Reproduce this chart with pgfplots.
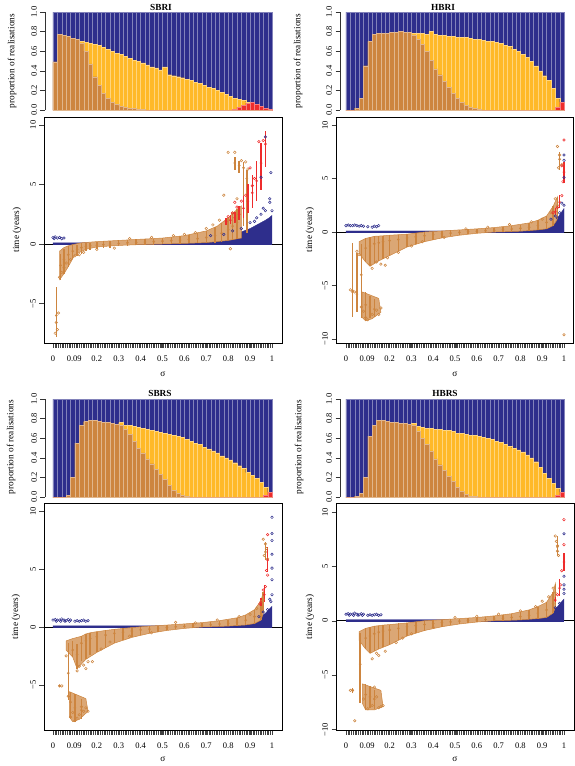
\documentclass[border=0pt]{standalone}
\usepackage{pgfplots}
\pgfplotsset{compat=1.18}
\usepackage{pgfplotstable}
\usepackage{fontspec}
\setmainfont{Liberation Serif}
\definecolor{myblue}{RGB}{46,46,140}
\definecolor{mybrown}{RGB}{205,133,63}
\definecolor{myyellow}{RGB}{255,185,40}
\definecolor{myred}{RGB}{238,44,44}
\newcommand{\sfont}{\fontsize{8.5}{10}\selectfont}
\newcommand{\lfont}{\fontsize{9.3}{11}\selectfont}
\pgfplotsset{
  barax/.style={scale only axis, height=98pt, ymin=0, ymax=1, axis x line=none, axis y line*=left,
    axis line style={black!80, line width=0.5pt}, ytick={0,0.2,0.4,0.6,0.8,1},
    yticklabels={0.0,0.2,0.4,0.6,0.8,1.0}, yticklabel style={rotate=90, anchor=south, font=\sfont},
    tick align=outside, major tick length=4.5pt, ytick pos=left, tick style={black!80, line width=0.5pt}},
  mybar/.style={ybar, bar width=0.2, bar shift=0pt, draw=#1!60!white, line width=0.25pt, fill=#1},
  scax/.style={scale only axis, axis line style={black, line width=0.6pt},
    xtick={0,0.97,2,3,4,5,6,7,8,9,10}, xticklabels={0,0.09,0.2,0.3,0.4,0.5,0.6,0.7,0.8,0.9,1},
    minor xtick={0,0.08,...,10}, tick align=outside, xtick pos=left, ytick pos=left,
    major tick length=4.5pt, minor tick length=4.5pt, tick style={black!75, line width=0.4pt},
    xticklabel style={font=\sfont, yshift=-5pt}, yticklabel style={rotate=90, anchor=south, font=\sfont}},
  bbox/.style={only marks, mark=o, mark size=1.1pt, color=#1, mark options={line width=0.45pt},
    error bars/.cd, y dir=both, y explicit, error bar style={line width=1.5pt, color=#1}, error mark=none},
  pts/.style={only marks, mark=o, mark size=1.3pt, mark options={line width=0.5pt}, color=#1},
  band/.style={fill=mybrown!72!white, draw=mybrown, line width=0.5pt},
  table/bxtab/.style={x=x, y=y, y error plus expr=\thisrow{hi}-\thisrow{y}, y error minus expr=\thisrow{y}-\thisrow{lo}},
}
\pgfplotstableread{
x all tot br rd
0.1 1 0.49 0.49 0
0.3 1 0.77 0.77 0
0.5 1 0.76 0.76 0
0.7 1 0.75 0.75 0
0.9 1 0.73 0.73 0
1.1 1 0.72 0.72 0
1.3 1 0.70 0.68 0
1.5 1 0.69 0.60 0
1.7 1 0.68 0.47 0
1.9 1 0.67 0.34 0
2.1 1 0.66 0.25 0
2.3 1 0.64 0.17 0
2.5 1 0.62 0.12 0
2.7 1 0.60 0.08 0
2.9 1 0.58 0.06 0
3.1 1 0.57 0.04 0
3.3 1 0.55 0.03 0
3.5 1 0.53 0.02 0
3.7 1 0.51 0.015 0
3.9 1 0.50 0.01 0
4.1 1 0.48 0.005 0
4.3 1 0.46 0 0
4.5 1 0.44 0 0
4.7 1 0.43 0 0
4.9 1 0.41 0 0
5.1 1 0.44 0 0
5.3 1 0.36 0 0
5.5 1 0.35 0 0
5.7 1 0.34 0 0
5.9 1 0.33 0 0
6.1 1 0.31 0 0
6.3 1 0.30 0 0
6.5 1 0.28 0 0
6.7 1 0.27 0 0
6.9 1 0.25 0 0
7.1 1 0.23 0 0
7.3 1 0.22 0 0
7.5 1 0.20 0 0
7.7 1 0.18 0 0
7.9 1 0.16 0 0
8.1 1 0.14 0 0
8.3 1 0.12 0 0.01
8.5 1 0.11 0 0.03
8.7 1 0.10 0 0.05
8.9 1 0.08 0 0.07
9.1 1 0.08 0 0.08
9.3 1 0.06 0 0.06
9.5 1 0.04 0 0.04
9.7 1 0.02 0 0.02
9.9 1 0.005 0 0.005
}\barSBRI
\pgfplotstableread{
x all tot br rd
0.1 1 0 0 0
0.3 1 0 0 0
0.5 1 0.02 0.02 0
0.7 1 0.12 0.12 0
0.9 1 0.45 0.45 0
1.1 1 0.70 0.70 0
1.3 1 0.77 0.77 0
1.5 1 0.78 0.78 0
1.7 1 0.78 0.78 0
1.9 1 0.78 0.78 0
2.1 1 0.79 0.79 0
2.3 1 0.79 0.79 0
2.5 1 0.80 0.80 0
2.7 1 0.79 0.79 0
2.9 1 0.79 0.79 0
3.1 1 0.78 0.76 0
3.3 1 0.78 0.72 0
3.5 1 0.78 0.67 0
3.7 1 0.77 0.60 0
3.9 1 0.80 0.51 0
4.1 1 0.77 0.42 0
4.3 1 0.76 0.36 0
4.5 1 0.76 0.29 0
4.7 1 0.75 0.23 0
4.9 1 0.75 0.17 0
5.1 1 0.74 0.12 0
5.3 1 0.74 0.08 0
5.5 1 0.74 0.05 0
5.7 1 0.73 0.03 0
5.9 1 0.72 0.02 0
6.1 1 0.72 0.01 0
6.3 1 0.71 0 0
6.5 1 0.70 0 0
6.7 1 0.70 0 0
6.9 1 0.69 0 0
7.1 1 0.68 0 0
7.3 1 0.66 0 0
7.5 1 0.65 0 0
7.7 1 0.62 0 0
7.9 1 0.60 0 0
8.1 1 0.57 0 0
8.3 1 0.54 0 0
8.5 1 0.50 0 0
8.7 1 0.45 0 0
8.9 1 0.40 0 0
9.1 1 0.35 0 0
9.3 1 0.30 0 0
9.5 1 0.22 0 0
9.7 1 0.12 0 0.03
9.9 1 0.08 0 0.08
}\barHBRI
\pgfplotstableread{
x all tot br rd
0.1 1 0 0 0
0.3 1 0 0 0
0.5 1 0 0 0
0.7 1 0.02 0.02 0
0.9 1 0.20 0.20 0
1.1 1 0.55 0.55 0
1.3 1 0.73 0.73 0
1.5 1 0.77 0.77 0
1.7 1 0.78 0.78 0
1.9 1 0.78 0.78 0
2.1 1 0.77 0.77 0
2.3 1 0.76 0.76 0
2.5 1 0.76 0.76 0
2.7 1 0.75 0.75 0
2.9 1 0.74 0.74 0
3.1 1 0.76 0.73 0
3.3 1 0.73 0.69 0
3.5 1 0.73 0.64 0
3.7 1 0.72 0.57 0
3.9 1 0.71 0.50 0
4.1 1 0.70 0.45 0
4.3 1 0.69 0.39 0
4.5 1 0.68 0.34 0
4.7 1 0.67 0.28 0
4.9 1 0.66 0.23 0
5.1 1 0.65 0.18 0
5.3 1 0.64 0.12 0
5.5 1 0.63 0.07 0
5.7 1 0.62 0.04 0
5.9 1 0.61 0.02 0
6.1 1 0.59 0.01 0
6.3 1 0.57 0 0
6.5 1 0.55 0 0
6.7 1 0.54 0 0
6.9 1 0.51 0 0
7.1 1 0.49 0 0
7.3 1 0.47 0 0
7.5 1 0.45 0 0
7.7 1 0.42 0 0
7.9 1 0.40 0 0
8.1 1 0.38 0 0
8.3 1 0.35 0 0
8.5 1 0.32 0 0
8.7 1 0.29 0 0
8.9 1 0.25 0 0
9.1 1 0.22 0 0
9.3 1 0.19 0 0
9.5 1 0.15 0 0
9.7 1 0.10 0 0.02
9.9 1 0.05 0 0.05
}\barSBRS
\pgfplotstableread{
x all tot br rd
0.1 1 0 0 0
0.3 1 0 0 0
0.5 1 0.01 0.01 0
0.7 1 0.04 0.04 0
0.9 1 0.20 0.20 0
1.1 1 0.62 0.62 0
1.3 1 0.73 0.73 0
1.5 1 0.78 0.78 0
1.7 1 0.78 0.78 0
1.9 1 0.77 0.77 0
2.1 1 0.76 0.76 0
2.3 1 0.76 0.76 0
2.5 1 0.75 0.75 0
2.7 1 0.75 0.75 0
2.9 1 0.74 0.74 0
3.1 1 0.75 0.73 0
3.3 1 0.72 0.67 0
3.5 1 0.71 0.60 0
3.7 1 0.70 0.54 0
3.9 1 0.70 0.47 0
4.1 1 0.69 0.39 0
4.3 1 0.69 0.33 0
4.5 1 0.68 0.27 0
4.7 1 0.68 0.21 0
4.9 1 0.67 0.16 0
5.1 1 0.65 0.10 0
5.3 1 0.65 0.06 0
5.5 1 0.64 0.03 0
5.7 1 0.63 0.01 0
5.9 1 0.63 0.005 0
6.1 1 0.62 0 0
6.3 1 0.61 0 0
6.5 1 0.60 0 0
6.7 1 0.59 0 0
6.9 1 0.57 0 0
7.1 1 0.56 0 0
7.3 1 0.54 0 0
7.5 1 0.52 0 0
7.7 1 0.50 0 0
7.9 1 0.48 0 0
8.1 1 0.46 0 0
8.3 1 0.43 0 0
8.5 1 0.40 0 0
8.7 1 0.36 0 0
8.9 1 0.30 0 0
9.1 1 0.24 0 0
9.3 1 0.19 0 0
9.5 1 0.14 0 0
9.7 1 0.09 0 0.02
9.9 1 0.05 0 0.05
}\barHBRS
\newcommand{\barpanel}[1]{%
  \addplot[mybar=myblue] table[x=x,y=all] {#1};
  \addplot[mybar=myyellow] table[x=x,y=tot] {#1};
  \addplot[mybar=myred] table[x=x,y=rd] {#1};
  \addplot[mybar=mybrown] table[x=x,y=br] {#1};
}
\begin{document}
\begin{tikzpicture}
\useasboundingbox (0,0) rectangle (575pt,-766pt);
% ---------------- SBRI ----------------
\begin{axis}[barax, at={(45pt,-110pt)}, anchor=south west, width=229.2pt, xmin=-0.365, xmax=10.1]
\barpanel{\barSBRI}
\end{axis}
\begin{axis}[scax, at={(44pt,-343pt)}, anchor=south west, width=238pt, height=226pt,
  xmin=-0.411, xmax=10.457, ymin=-8.32, ymax=10.67, ytick={-5,0,5,10}, yticklabels={−5,0,5,10}]
\addplot[black, line width=0.6pt] coordinates {(-1,0) (11,0)};
\addplot[fill=myblue, draw=myblue, line width=0.3pt] table {
x y
0 0.1
1 0.1
2 0.11
3 0.12
4 0.13
5 0.15
6 0.2
6.5 0.25
7 0.3
7.5 0.45
8 0.65
8.5 0.95
9 1.3
9.5 1.8
9.8 2.1
10 2.4
} \closedcycle;
\addplot[myblue, line width=2pt] coordinates {(0,0) (10,0)};
\addplot[band] table {
x y
0.3 -0.6
0.5 -0.3
0.7 -0.15
0.9 -0.05
1.3 0.1
2.0 0.2
3.0 0.3
4.0 0.4
5.0 0.5
6.0 0.7
7.0 1.1
7.5 1.5
8.0 2.2
8.4 2.9
8.6 3.2
8.6 0.5
8.0 0.3
7.0 0.12
6.0 0.05
5.0 0.0
4.0 -0.05
3.0 -0.12
2.0 -0.25
1.5 -0.45
1.0 -0.9
0.7 -1.9
0.5 -2.5
0.3 -3.0
0.3 -0.6
};
\addplot[bbox=mybrown] table[bxtab] {
x y lo hi
0.15 -6.0 -7.8 -3.6
0.35 -1.8 -3.0 -0.8
0.5 -1.3 -2.5 -0.4
0.7 -0.9 -1.9 -0.2
0.9 -0.6 -1.3 -0.1
1.1 -0.45 -1.0 -0.05
1.3 -0.3 -0.8 0.05
1.5 -0.2 -0.6 0.1
1.7 -0.15 -0.5 0.12
2.0 -0.1 -0.4 0.18
2.3 -0.05 -0.35 0.22
2.6 0.0 -0.3 0.26
3.0 0.05 -0.2 0.3
3.4 0.1 -0.15 0.34
3.8 0.13 -0.1 0.38
4.2 0.16 -0.08 0.42
4.6 0.2 -0.05 0.46
5.0 0.24 0.0 0.5
5.4 0.28 0.0 0.56
5.8 0.32 0.02 0.65
6.2 0.38 0.05 0.75
6.6 0.45 0.08 0.9
7.0 0.55 0.1 1.1
7.4 0.7 0.12 1.4
7.7 0.9 0.2 1.8
8.0 1.2 0.3 2.2
8.2 1.5 0.35 2.6
8.4 1.8 0.4 2.9
8.3 6.8 6.2 7.3
8.5 6.6 6.0 7.0
8.7 6.4 1.5 6.9
8.85 5.5 0.9 6.2
};
\addplot[pts=mybrown] table {
x y
0.1 -7.5
0.2 -7.2
0.15 -6.6
0.25 -5.8
0.3 -2.8
0.4 -2.4
0.5 -2.0
0.6 -1.6
0.8 -1.3
1.0 -1.0
1.2 -0.9
1.4 -0.7
2.0 -0.45
2.8 -0.35
3.5 0.45
4.5 0.55
5.5 0.7
6.0 0.8
6.5 0.95
7.0 1.3
7.3 1.6
7.6 2.0
7.8 4.1
8.0 7.7
8.3 7.7
8.2 2.6
8.4 3.8
8.1 -0.4
8.6 7.0
8.8 6.9
8.9 6.3
};
\addplot[bbox=myred] table[bxtab] {
x y lo hi
7.9 1.9 1.6 2.2
8.1 2.0 1.7 2.4
8.3 2.2 1.8 2.7
8.5 2.5 2.0 3.2
8.7 3.0 2.2 4.0
8.9 3.6 2.6 5.0
9.1 4.3 3.0 5.8
9.3 5.3 3.6 7.0
9.5 6.8 4.5 8.5
9.7 8.4 6.5 9.5
};
\addplot[pts=myred] table {
x y
8.0 2.3
8.2 2.6
8.4 3.1
8.3 3.5
8.6 3.6
8.8 4.1
9.0 6.4
9.2 5.5
9.4 8.6
9.6 8.7
9.1 4.9
};
\addplot[pts=myblue] table {
x y
0.0 0.55
0.1 0.6
0.2 0.5
0.3 0.55
0.4 0.45
0.5 0.5
0.05 0.45
7.2 0.7
7.8 0.8
8.2 1.1
8.6 1.3
9.0 1.8
9.2 1.9
9.3 2.2
9.5 2.5
9.5 5.6
9.7 2.8
9.7 9.0
9.8 2.0
9.9 3.8
9.9 3.5
9.95 6.0
10.0 2.8
9.6 3.0
};
\end{axis}
% ---------------- HBRI ----------------
\begin{axis}[barax, at={(340pt,-110pt)}, anchor=south west, width=226.2pt, xmin=-0.275, xmax=10.1]
\barpanel{\barHBRI}
\end{axis}
\begin{axis}[scax, at={(336pt,-343pt)}, anchor=south west, width=237pt, height=226pt,
  xmin=-0.459, xmax=10.413, ymin=-10.37, ymax=10.75, ytick={-10,-5,0,5,10}, yticklabels={−10,−5,0,5,10}]
\addplot[black, line width=0.6pt] coordinates {(-1,0) (11,0)};
\addplot[fill=myblue, draw=myblue, line width=0.3pt] table {
x y
0 0.1
5 0.1
7 0.14
8 0.22
8.5 0.32
9 0.5
9.4 0.8
9.7 1.3
10 2.2
} \closedcycle;
\addplot[myblue, line width=2pt] coordinates {(0,0) (10,0)};
\addplot[band] table {
x y
0.6 -0.9
0.9 -0.6
1.1 -0.5
1.3 -0.4
1.7 -0.35
2.0 -0.3
2.8 -0.2
3.2 -0.1
3.6 0.0
4.4 0.1
5.2 0.2
6.0 0.3
6.8 0.42
7.6 0.6
8.4 0.85
8.8 1.1
9.2 1.5
9.5 2.4
9.7 3.3
9.7 1.2
9.5 0.6
9.2 0.3
8.8 0.2
8.0 0.08
7.2 0.02
6.8 0.0
6.0 -0.12
5.2 -0.3
4.4 -0.55
3.6 -0.9
2.8 -1.4
2.4 -1.8
2.0 -2.2
1.5 -2.7
1.1 -3.2
0.9 -2.8
0.6 -2.0
0.6 -0.9
};
\addplot[band] table {
x y
0.75 -5.6
1.5 -6.2
1.6 -7.5
1.2 -8.1
0.9 -8.3
0.75 -8.0
0.75 -5.6
};
\addplot[bbox=mybrown] table[bxtab] {
x y lo hi
0.3 -5.6 -7.9 -1.0
0.5 -5.8 -7.5 -2.0
0.7 -4.0 -8.0 -1.1
0.9 -6.8 -8.3 -5.6
0.9 -1.5 -2.8 -0.6
1.1 -7.0 -8.0 -6.0
1.1 -1.3 -3.2 -0.5
1.3 -7.2 -7.9 -6.3
1.3 -1.1 -2.9 -0.4
1.5 -1.0 -2.7 -0.4
1.7 -0.9 -2.5 -0.35
2.0 -0.8 -2.2 -0.3
2.4 -0.7 -1.8 -0.25
2.8 -0.55 -1.4 -0.2
3.2 -0.45 -1.1 -0.1
3.6 -0.35 -0.9 0.0
4.0 -0.25 -0.7 0.05
4.4 -0.18 -0.55 0.1
4.8 -0.1 -0.4 0.15
5.2 -0.03 -0.3 0.2
5.6 0.03 -0.2 0.25
6.0 0.08 -0.12 0.3
6.4 0.12 -0.05 0.35
6.8 0.17 0.0 0.42
7.2 0.22 0.02 0.5
7.6 0.28 0.05 0.6
8.0 0.35 0.08 0.7
8.4 0.45 0.12 0.85
8.8 0.6 0.2 1.1
9.2 0.9 0.3 1.5
9.5 1.5 0.6 2.4
9.7 2.5 1.2 3.3
9.8 6.8 5.8 7.5
};
\addplot[pts=mybrown] table {
x y
0.2 -5.4
0.3 -5.5
0.4 -5.6
0.5 -1.8
0.6 -2.1
0.7 -7.0
0.8 -7.4
0.9 -8.0
1.0 -8.2
1.2 -7.7
1.4 -7.3
1.5 -7.7
1.6 -7.1
1.1 -3.0
1.2 -3.4
1.4 -2.8
1.6 -3.0
1.8 -3.1
1.9 -2.4
2.4 -1.9
3.0 -1.3
3.5 -0.9
4.5 -0.5
5.5 0.3
6.5 0.45
7.5 0.7
8.5 0.95
9.0 1.2
9.4 1.8
9.6 3.1
9.7 8.0
9.8 7.2
9.9 6.3
9.75 6.0
10.0 -9.6
};
\addplot[bbox=myred] table[bxtab] {
x y lo hi
9.6 1.9 1.6 2.2
9.8 2.8 2.2 3.5
10.0 5.6 4.6 6.5
};
\addplot[pts=myred] table {
x y
9.5 1.8
9.7 2.3
9.9 3.4
9.95 4.7
9.9 6.2
10.0 8.6
};
\addplot[pts=myblue] table {
x y
0.0 0.6
0.1 0.65
0.2 0.6
0.3 0.6
0.4 0.65
0.5 0.6
0.6 0.55
0.7 0.6
0.8 0.55
1.0 0.5
1.2 0.45
1.3 0.55
1.4 0.5
1.5 0.6
9.4 1.2
9.6 1.5
9.7 1.3
9.8 1.8
9.9 2.7
10.0 2.5
10.0 5.1
10.0 6.7
10.0 7.2
};
\end{axis}
% ---------------- SBRS ----------------
\begin{axis}[barax, at={(45pt,-497pt)}, anchor=south west, width=229.2pt, xmin=-0.365, xmax=10.1]
\barpanel{\barSBRS}
\end{axis}
\begin{axis}[scax, at={(44pt,-730pt)}, anchor=south west, width=238pt, height=227pt,
  xmin=-0.411, xmax=10.457, ymin=-8.92, ymax=10.74, ytick={-5,0,5,10}, yticklabels={−5,0,5,10}]
\addplot[black, line width=0.6pt] coordinates {(-1,0) (11,0)};
\addplot[fill=myblue, draw=myblue, line width=0.3pt] table {
x y
0 0.1
6 0.1
7.5 0.18
8.5 0.32
9 0.5
9.4 0.75
9.7 1.2
10 1.8
} \closedcycle;
\addplot[myblue, line width=2pt] coordinates {(0,0) (10,0)};
\addplot[band] table {
x y
0.6 -1.2
0.9 -1.0
1.1 -0.9
1.3 -0.8
1.5 -0.6
1.7 -0.5
2.0 -0.4
2.4 -0.3
2.8 -0.2
3.6 -0.05
4.4 0.08
5.2 0.17
6.0 0.27
6.8 0.38
7.6 0.55
8.4 0.8
8.8 1.05
9.2 1.5
9.5 2.3
9.6 3.0
9.6 1.2
9.5 0.6
9.2 0.3
8.8 0.18
8.0 0.08
7.2 0.02
6.8 0.0
6.0 -0.12
5.2 -0.3
4.4 -0.55
3.6 -0.9
2.8 -1.4
2.4 -1.8
2.0 -2.2
1.5 -2.8
1.1 -3.6
0.9 -2.6
0.6 -2.0
0.6 -1.2
};
\addplot[band] table {
x y
0.75 -5.6
1.5 -6.2
1.6 -7.3
1.2 -8.0
0.9 -8.2
0.75 -7.8
0.75 -5.6
};
\addplot[bbox=mybrown] table[bxtab] {
x y lo hi
0.3 -5.1 -5.2 -5.0
0.7 -4.0 -6.3 -1.4
0.8 -6.5 -8.0 -5.6
0.9 -2.0 -2.6 -1.2
1.0 -7.0 -8.2 -5.8
1.1 -2.4 -3.6 -1.5
1.3 -7.2 -8.0 -6.2
1.3 -1.4 -2.9 -0.8
1.5 -1.2 -2.8 -0.6
1.7 -1.0 -2.4 -0.5
2.0 -0.85 -2.2 -0.4
2.4 -0.7 -1.8 -0.3
2.8 -0.55 -1.4 -0.2
3.2 -0.45 -1.1 -0.12
3.6 -0.35 -0.9 -0.05
4.0 -0.25 -0.7 0.02
4.4 -0.18 -0.55 0.08
4.8 -0.1 -0.4 0.12
5.2 -0.04 -0.3 0.17
5.6 0.02 -0.2 0.22
6.0 0.06 -0.12 0.27
6.4 0.1 -0.06 0.32
6.8 0.15 0.0 0.38
7.2 0.2 0.02 0.45
7.6 0.26 0.05 0.55
8.0 0.33 0.08 0.65
8.4 0.42 0.12 0.8
8.8 0.58 0.18 1.05
9.2 0.9 0.3 1.5
9.5 1.5 0.6 2.3
9.6 2.4 1.2 3.0
9.7 6.5 5.8 7.4
};
\addplot[pts=mybrown] table {
x y
0.3 -5.1
0.4 -5.1
0.6 -2.5
0.7 -6.0
0.8 -7.8
0.9 -7.4
1.0 -8.1
1.1 -7.9
1.2 -7.6
1.3 -6.9
1.4 -7.3
1.5 -7.0
1.6 -7.3
1.1 -3.8
1.2 -3.4
1.4 -3.3
1.5 -3.6
1.6 -3.0
1.8 -3.0
2.2 -1.9
2.6 -1.3
3.5 -0.8
4.5 -0.5
5.6 0.4
6.5 0.35
7.5 0.6
8.5 0.9
9.0 1.1
9.3 1.6
9.5 2.2
9.6 7.6
9.7 7.2
9.75 6.8
9.65 6.2
9.8 5.9
};
\addplot[bbox=myred] table[bxtab] {
x y lo hi
9.5 2.1 1.8 2.5
9.65 2.8 2.2 3.6
9.8 5.8 4.8 6.9
};
\addplot[pts=myred] table {
x y
9.75 4.9
9.8 4.5
9.6 3.2
9.7 3.5
9.45 2.0
9.8 8.0
};
\addplot[pts=myblue] table {
x y
0.0 0.6
0.1 0.65
0.15 0.5
0.2 0.6
0.3 0.6
0.35 0.5
0.4 0.7
0.5 0.6
0.55 0.5
0.6 0.55
0.7 0.65
0.75 0.5
0.8 0.6
1.0 0.5
1.1 0.55
1.2 0.5
1.3 0.55
1.4 0.6
1.5 0.5
1.6 0.55
9.4 0.9
9.6 1.3
9.8 1.5
9.9 2.4
9.95 2.2
10.0 2.8
10.0 4.1
10.0 5.1
10.0 6.3
10.0 7.5
10.0 8.1
10.0 9.5
};
\end{axis}
% ---------------- HBRS ----------------
\begin{axis}[barax, at={(340pt,-497pt)}, anchor=south west, width=226.2pt, xmin=-0.275, xmax=10.1]
\barpanel{\barHBRS}
\end{axis}
\begin{axis}[scax, at={(336pt,-730pt)}, anchor=south west, width=238pt, height=227pt,
  xmin=-0.459, xmax=10.46, ymin=-10.05, ymax=10.83, ytick={-10,-5,0,5,10}, yticklabels={−10,−5,0,5,10}]
\addplot[black, line width=0.6pt] coordinates {(-1,0) (11,0)};
\addplot[fill=myblue, draw=myblue, line width=0.3pt] table {
x y
0 0.1
6 0.1
7.5 0.2
8.5 0.35
9 0.55
9.4 0.85
9.7 1.3
10 2.0
} \closedcycle;
\addplot[myblue, line width=2pt] coordinates {(0,0) (10,0)};
\addplot[band] table {
x y
0.6 -1.0
0.9 -0.7
1.1 -0.6
1.3 -0.5
1.7 -0.4
2.0 -0.35
2.8 -0.2
3.2 -0.1
3.6 0.0
4.4 0.1
5.2 0.2
6.0 0.3
6.8 0.45
7.6 0.65
8.4 1.0
8.8 1.3
9.2 1.7
9.5 2.6
9.6 3.4
9.6 1.2
9.5 0.7
9.2 0.3
8.8 0.2
8.0 0.08
7.2 0.02
6.8 0.0
6.0 -0.12
5.2 -0.3
4.4 -0.55
3.6 -0.9
2.8 -1.4
2.4 -1.8
2.0 -2.2
1.5 -2.6
1.1 -3.0
0.9 -2.6
0.6 -1.8
0.6 -1.0
};
\addplot[band] table {
x y
0.75 -5.8
1.6 -6.4
1.7 -7.9
1.3 -8.2
0.9 -8.2
0.75 -7.6
0.75 -5.8
};
\addplot[bbox=mybrown] table[bxtab] {
x y lo hi
0.3 -6.4 -6.6 -6.2
0.65 -4.0 -7.6 -1.1
0.9 -6.8 -8.2 -5.8
0.9 -1.6 -2.6 -0.7
1.1 -7.0 -8.0 -6.0
1.1 -1.4 -3.0 -0.6
1.3 -7.2 -8.1 -6.4
1.3 -1.2 -2.8 -0.5
1.5 -1.05 -2.6 -0.45
1.7 -0.95 -2.4 -0.4
2.0 -0.85 -2.2 -0.35
2.4 -0.7 -1.8 -0.25
2.8 -0.55 -1.4 -0.2
3.2 -0.45 -1.1 -0.1
3.6 -0.35 -0.9 0.0
4.0 -0.25 -0.7 0.05
4.4 -0.18 -0.55 0.1
4.8 -0.1 -0.4 0.15
5.2 -0.03 -0.3 0.2
5.6 0.03 -0.2 0.25
6.0 0.08 -0.12 0.3
6.4 0.12 -0.05 0.36
6.8 0.17 0.0 0.45
7.2 0.22 0.02 0.55
7.6 0.3 0.05 0.65
8.0 0.38 0.08 0.8
8.4 0.5 0.12 1.0
8.8 0.7 0.2 1.3
9.2 1.0 0.3 1.7
9.5 1.6 0.7 2.6
9.6 2.6 1.2 3.4
9.7 6.8 6.0 7.8
};
\addplot[pts=mybrown] table {
x y
0.2 -6.4
0.3 -6.4
0.4 -9.2
0.8 -7.2
1.0 -8.1
1.2 -7.8
1.4 -7.0
1.5 -8.0
1.6 -7.9
1.7 -7.8
1.3 -6.1
1.2 -3.5
1.4 -3.0
1.5 -3.2
1.8 -2.8
2.3 -2.0
2.6 -1.6
3.0 -1.2
4.0 -0.6
5.0 0.3
6.0 0.4
7.0 0.6
8.0 0.9
8.7 1.3
9.0 1.8
9.3 2.2
9.5 3.0
9.6 7.8
9.65 7.3
9.7 6.9
9.7 6.4
9.75 6.0
};
\addplot[bbox=myred] table[bxtab] {
x y lo hi
9.6 1.9 1.7 2.2
9.8 3.0 2.3 3.8
10.0 5.4 4.6 6.2
};
\addplot[pts=myred] table {
x y
10.0 9.3
10.0 7.0
9.9 4.6
9.7 2.4
9.85 3.3
};
\addplot[pts=myblue] table {
x y
0.0 0.6
0.1 0.65
0.15 0.5
0.2 0.6
0.3 0.6
0.35 0.5
0.4 0.7
0.5 0.6
0.55 0.5
0.6 0.55
0.7 0.65
0.75 0.5
0.8 0.6
1.0 0.5
1.1 0.55
1.2 0.5
1.3 0.55
1.4 0.6
1.5 0.5
1.6 0.55
9.6 1.2
9.8 1.6
10.0 2.5
10.0 2.9
10.0 3.3
10.0 4.1
10.0 8.0
};
\end{axis}
% ---------------- titles and labels ----------------
\begin{scope}[every node/.style={font=\lfont}]
\node[font=\bfseries\lfont] at (161pt,-7pt) {SBRI};
\node[font=\bfseries\lfont] at (443pt,-7pt) {HBRI};
\node[font=\bfseries\lfont] at (160pt,-393pt) {SBRS};
\node[font=\bfseries\lfont] at (445pt,-393pt) {HBRS};
\node[rotate=90] at (12pt,-61pt) {proportion of realisations};
\node[rotate=90] at (298pt,-61pt) {proportion of realisations};
\node[rotate=90] at (11pt,-447pt) {proportion of realisations};
\node[rotate=90] at (299pt,-447pt) {proportion of realisations};
\node[rotate=90] at (17pt,-230pt) {time (years)};
\node[rotate=90] at (310pt,-230pt) {time (years)};
\node[rotate=90] at (16pt,-617pt) {time (years)};
\node[rotate=90] at (310pt,-617pt) {time (years)};
\node at (163pt,-374pt) {σ};
\node at (455pt,-374pt) {σ};
\node at (163pt,-759pt) {σ};
\node at (455pt,-759pt) {σ};
\end{scope}
\end{tikzpicture}
\end{document}
